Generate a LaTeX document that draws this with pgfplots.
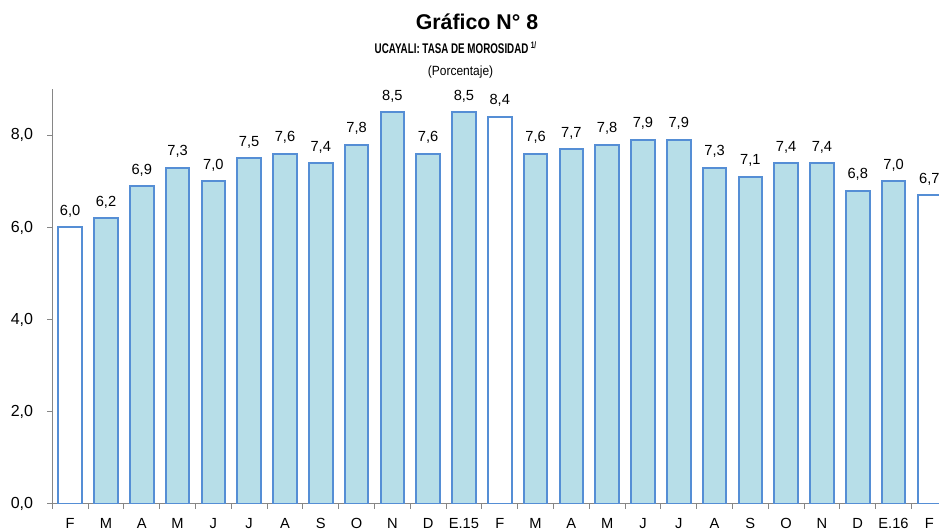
\documentclass[border=0pt]{standalone}
\usepackage{pgfplots}
\pgfplotsset{compat=1.18}
\usepackage{fontspec}
\setmainfont{Liberation Sans}
\newfontfamily\condbold{Liberation Sans}[FakeStretch=0.7]
\newfontfamily\condreg{Liberation Sans}[FakeStretch=0.9]
\definecolor{barfill}{HTML}{B7DEE8}
\definecolor{baredge}{HTML}{558ED5}
\definecolor{axgray}{HTML}{868686}
\begin{document}
\begin{tikzpicture}
\begin{axis}[
  at={(0pt,0pt)}, anchor=south west,
  scale only axis, width=665pt, height=310.8pt,
  xmin=-0.5, xmax=24.27, ymin=0, ymax=9,
  ybar, bar width=0.66, bar shift=0pt,
  axis x line*=bottom, axis y line*=left,
  axis line style={draw=axgray, line width=0.75pt, -},
  tick align=outside,
  major tick length=3.75pt, minor tick length=3.75pt,
  tick style={draw=axgray, line width=0.75pt},
  xtick={0,...,24},
  xticklabels={F,M,A,M,J,J,A,S,O,N,D,E.15,F,M,A,M,J,J,A,S,O,N,D,E.16,F},
  minor xtick={-0.5,0.5,...,23.5},
  major x tick style={draw=none},
  ytick={0,2,4,6,8},
  xticklabel style={font=\fontsize{11}{13}\selectfont, anchor=base, inner sep=0pt, yshift=-14.8pt},
  yticklabel style={font=\fontsize{12}{14}\selectfont, anchor=east, inner sep=0pt, xshift=-10.5pt},
  nodes near coords,
  every node near coord/.append style={font=\fontsize{11}{13}\selectfont, anchor=base, yshift=9pt, text=black},
  /pgf/number format/.cd, fixed, fixed zerofill, precision=1, use comma, assume math mode=true,
  /pgfplots/.cd,
]
\addplot[fill=barfill, draw=baredge, line width=1.5pt] coordinates {
  (1,6.2) (2,6.9) (3,7.3) (4,7.0) (5,7.5) (6,7.6) (7,7.4) (8,7.8) (9,8.5) (10,7.6) (11,8.5)
  (13,7.6) (14,7.7) (15,7.8) (16,7.9) (17,7.9) (18,7.3) (19,7.1) (20,7.4) (21,7.4) (22,6.8) (23,7.0)};
\addplot[fill=white, draw=baredge, line width=1.5pt] coordinates {(0,6.0) (12,8.4) (24,6.7)};
\end{axis}
\node[anchor=base, font=\bfseries\fontsize{16}{19}\selectfont] at (318.5pt,356pt) {Gráfico N° 8};
\node[anchor=base west, font=\condbold\bfseries\fontsize{10.5}{12}\selectfont] at (238.3pt,338pt) {UCAYALI: TASA DE MOROSIDAD\,\raisebox{0.55ex}{\fontsize{7}{8}\selectfont 1/}};
\node[anchor=base, font=\condreg\fontsize{10}{12}\selectfont] at (306.2pt,320.8pt) {(Porcentaje)};
\pgfresetboundingbox
\path[use as bounding box] (-39.2pt,-20.5pt) rectangle (665pt,377.8pt);
\end{tikzpicture}
\end{document}
